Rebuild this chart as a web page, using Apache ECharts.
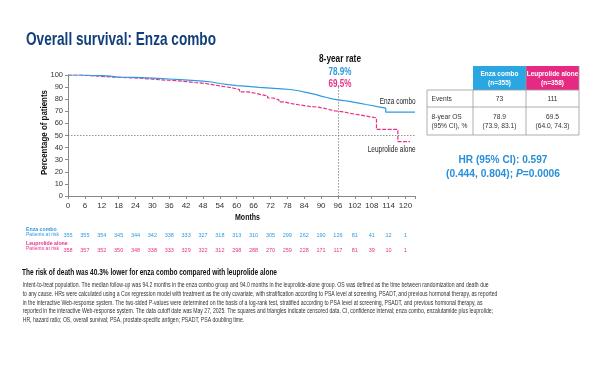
<!DOCTYPE html>
<html><head><meta charset="utf-8">
<script src="https://cdn.jsdelivr.net/npm/echarts@6/dist/echarts.min.js"></script>
<style>html,body{margin:0;padding:0;background:#fff}#c{width:600px;height:365px}</style>
</head><body><div id="c"></div>
<script>
// ---- data ----
const enzaMonths = [0,4,8,12,15,18,24,28,32,36,40,44,48,51,54,57,60,64,68,72,76,79,82,85,88,90,92,94,96,98,100,102,104,106,108,110,113,123.4];
const enzaSurv   = [100,99.7,99.5,99,98.3,98,97.6,97.2,96.7,96.2,95.6,94.9,94.2,93,92,91.2,90.6,89.8,89.2,88.6,88,87,85.5,84,82.5,81.4,80.3,79.4,78.9,78.2,77.4,76.5,75.6,74.8,73.8,72.6,69.3,69.3];
const leupMonths = [0,4,8,11,16,21,26,30,33,37,41,45,49,52,55,58,61,64,67,69,71,73,75,77,79,82,86,89,91,93,95,98,100,103,106,109.7,117.3,121.6];
const leupSurv   = [100,99.5,99,98.3,97.8,97.3,96.6,96,95.6,94.8,93.8,93,91.8,90.6,89.6,88,86,84.8,83.6,82.8,81,79.5,77.8,76.5,75.4,74,73.4,72.6,71.4,70.4,69.5,68.5,67.3,66,64.6,55,44.9,44.9];
const xTicks = [0,6,12,18,24,30,36,42,48,54,60,66,72,78,84,90,96,102,108,114,120];
const riskEnza = [355,355,354,345,344,342,338,333,327,318,313,310,305,299,262,190,126,81,41,12,1];
const riskLeup = [358,357,352,350,348,338,333,329,322,312,298,288,270,259,228,171,117,81,39,10,1];
const eightYear = {month:96, enza:78.9, leup:69.5};
const tableHead = ['Enza combo','(n=355)','Leuprolide alone','(n=358)'];
const events = [73,111];
const os8 = [['78.9','(73.9, 83.1)'],['69.5','(64.0, 74.3)']];
const hrText = ['HR (95% CI): 0.597','(0.444, 0.804); '];
const pText = ['P','=0.0006'];
const footnote = [
'Intent-to-treat population. The median follow-up was 94.2 months in the enza combo group and 94.0 months in the leuprolide-alone group. OS was defined as the time between randomization and death due',
'to any cause. HRs were calculated using a Cox regression model with treatment as the only covariate, with stratification according to PSA level at screening, PSADT, and previous hormonal therapy, as reported',
'in the interactive Web-response system. The two-sided P-values were determined on the basis of a log-rank test, stratified according to PSA level at screening, PSADT, and previous hormonal therapy, as',
'reported in the interactive Web-response system. The data cutoff date was May 27, 2025. The squares and triangles indicate censored data. CI, confidence interval; enza combo, enzalutamide plus leuprolide;',
'HR, hazard ratio; OS, overall survival; PSA, prostate-specific antigen; PSADT, PSA doubling time.'
];

// ---- style ----
const F = "'Liberation Sans', Arial, sans-serif";
const BLUE = '#2f9ae0', PINK = '#e8318a', NAVY = '#123f7a', HB = '#2aa6e2', HP = '#e62a84', HRC = '#2a8fd8';
const XMAX = 123.4;

const chart = echarts.init(document.getElementById('c'), null, {renderer:'canvas'});
const zip = (a,b)=>a.map((v,i)=>[v,b[i]]);
const mctx = document.createElement('canvas').getContext('2d');
function scaleFor(text, font, w){ mctx.font = font; return w / mctx.measureText(text).width; }

function riskAxis(gi, arr, color){
  return {gridIndex:gi, type:'value', min:0, max:XMAX, interval:6,
    axisLine:{show:false}, axisTick:{show:false}, splitLine:{show:false},
    axisLabel:{margin:3, fontSize:5.5, fontFamily:F, color:color,
      formatter:v=>{const i=xTicks.indexOf(v); return i<0?'':String(arr[i]);}}};
}

const graphic = [];
function T(x,y,text,size,opts){
  opts = opts||{};
  const font = (opts.italic?'italic ':'')+(opts.bold?'bold ':'')+size+'px '+F;
  const sx = opts.sx || (opts.w ? scaleFor(text,font,opts.w) : 1);
  graphic.push({type:'text',x:x,y:y,scaleX:sx,rotation:opts.rot||0,
    style:{text:text,font:font,fill:opts.fill||'#222',textAlign:opts.align||'left',textVerticalAlign:'middle'}});
  return sx;
}

T(26,39.5,'Overall survival: Enza combo',18.5,{bold:1,fill:NAVY,w:190});
T(340,59,'8-year rate',10,{bold:1,fill:'#111',align:'center',w:42});
const sp = T(340,72,eightYear.enza.toFixed(1)+'%',10.5,{bold:1,fill:BLUE,align:'center',w:23});
T(340,84,eightYear.leup.toFixed(1)+'%',10.5,{bold:1,fill:PINK,align:'center',sx:sp});
T(415.7,102,'Enza combo',8.5,{fill:'#222',align:'right',w:36});
T(415.7,149.5,'Leuprolide alone',8.5,{fill:'#222',align:'right',w:48});
T(247.5,217.5,'Months',9.5,{bold:1,fill:'#111',align:'center',w:25});
T(44,132.5,'Percentage of patients',9.5,{bold:1,fill:'#111',align:'center',w:85,rot:Math.PI/2});

// risk table labels
T(26,229,'Enza combo',6,{bold:1,fill:BLUE,w:30.7});
const spr = T(26,234,'Patients at risk',6,{fill:BLUE,w:33});
T(26,243.5,'Leuprolide alone',6,{bold:1,fill:PINK,w:41.7});
T(26,248.7,'Patients at risk',6,{fill:PINK,sx:spr});

// right table
const TX=427, C1=473, C2=526, C3=579, R0=66, R1=90, R2=107, R3=135;
graphic.push({type:'rect',shape:{x:C1,y:R0,width:C2-C1,height:R1-R0},style:{fill:HB}});
graphic.push({type:'rect',shape:{x:C2,y:R0,width:C3-C2,height:R1-R0},style:{fill:HP}});
const gl = {stroke:'#9a9a9a',lineWidth:0.8};
[[TX,R1,C3,R1],[TX,R2,C3,R2],[TX,R3,C3,R3],[TX,R1,TX,R3],[C1,R1,C1,R3],[C2,R0,C2,R3],[C3,R0,C3,R3]].forEach(l=>{
  graphic.push({type:'line',shape:{x1:l[0],y1:l[1],x2:l[2],y2:l[3]},style:gl});
});
const mc1=(C1+C2)/2, mc2=(C2+C3)/2;
const sh = T(mc1,74,tableHead[0],7.5,{bold:1,fill:'#fff',align:'center',w:38});
T(mc1,83,tableHead[1],7.5,{bold:1,fill:'#fff',align:'center',sx:sh});
T(mc2,74,tableHead[2],7.5,{bold:1,fill:'#fff',align:'center',sx:sh});
T(mc2,83,tableHead[3],7.5,{bold:1,fill:'#fff',align:'center',sx:sh});
const sb = scaleFor(os8[0][1],'7.5px '+F,34);
T(431.5,98.5,'Events',7.5,{fill:'#333',sx:sb});
T(431.5,117,'8-year OS',7.5,{fill:'#333',sx:sb});
T(431.5,126,'(95% CI), %',7.5,{fill:'#333',sx:sb});
T(mc1,98.5,String(events[0]),7.5,{fill:'#333',align:'center',sx:sb});
T(mc2,98.5,String(events[1]),7.5,{fill:'#333',align:'center',sx:sb});
T(mc1,117,os8[0][0],7.5,{fill:'#333',align:'center',sx:sb});
T(mc1,126,os8[0][1],7.5,{fill:'#333',align:'center',sx:sb});
T(mc2,117,os8[1][0],7.5,{fill:'#333',align:'center',sx:sb});
T(mc2,126,os8[1][1],7.5,{fill:'#333',align:'center',sx:sb});

// HR
T(503,160,hrText[0],11.8,{bold:1,fill:HRC,align:'center',w:89});
const hrFont = 'bold 11.8px '+F;
const shr = scaleFor(hrText[1]+pText[0]+pText[1],hrFont,114);
graphic.push({type:'text',x:503,y:174,scaleX:shr,style:{
  rich:{a:{font:hrFont,fill:HRC},i:{font:'italic '+hrFont,fill:HRC}},
  text:'{a|'+hrText[1]+'}{i|'+pText[0]+'}{a|'+pText[1]+'}',textAlign:'center',textVerticalAlign:'middle'}});

// bottom text
T(22,272.5,'The risk of death was 40.3% lower for enza combo compared with leuprolide alone',9.5,{bold:1,fill:'#111',w:255});
const sf = scaleFor(footnote[0],'6.8px '+F,466);
footnote.forEach((l,i)=>T(22.7,285.3+i*8.7,l,6.8,{fill:'#333',sx:sf}));

chart.setOption({
  animation:false,
  grid:[
    {left:68, top:75, width:347, height:121},
    {left:68, top:228, width:347, height:1},
    {left:68, top:243, width:347, height:1}
  ],
  xAxis:[
    {gridIndex:0, type:'value', min:0, max:XMAX, interval:6,
      axisLine:{lineStyle:{color:'#888'}}, axisTick:{length:3,lineStyle:{color:'#888'}}, splitLine:{show:false},
      axisLabel:{fontFamily:F,fontSize:8,color:'#333',margin:6,formatter:v=>xTicks.indexOf(v)<0?'':String(v)}},
    riskAxis(1,riskEnza,BLUE),
    riskAxis(2,riskLeup,PINK)
  ],
  yAxis:[
    {gridIndex:0, type:'value', min:0, max:100, interval:10,
      axisLine:{show:true,lineStyle:{color:'#888'}}, axisTick:{show:true,length:3,lineStyle:{color:'#888'}}, splitLine:{show:false},
      axisLabel:{fontFamily:F,fontSize:7.5,color:'#333',margin:5}},
    {gridIndex:1, show:false}, {gridIndex:2, show:false}
  ],
  series:[
    {type:'line', xAxisIndex:0, yAxisIndex:0, step:'end', symbol:'none', data:zip(leupMonths,leupSurv),
      lineStyle:{color:PINK,width:1.2,type:[4,1.5]}, z:3},
    {type:'line', xAxisIndex:0, yAxisIndex:0, step:'end', symbol:'none', data:zip(enzaMonths,enzaSurv),
      lineStyle:{color:BLUE,width:1.2}, z:4,
      markLine:{silent:true, symbol:'none', label:{show:false},
        lineStyle:{color:'#777',type:[1.5,1.5],width:0.8},
        data:[[{coord:[0,50]},{coord:[XMAX,50]}], [{coord:[eightYear.month,90]},{coord:[eightYear.month,0]}]]}}
  ],
  graphic:graphic
});
</script></body></html>
